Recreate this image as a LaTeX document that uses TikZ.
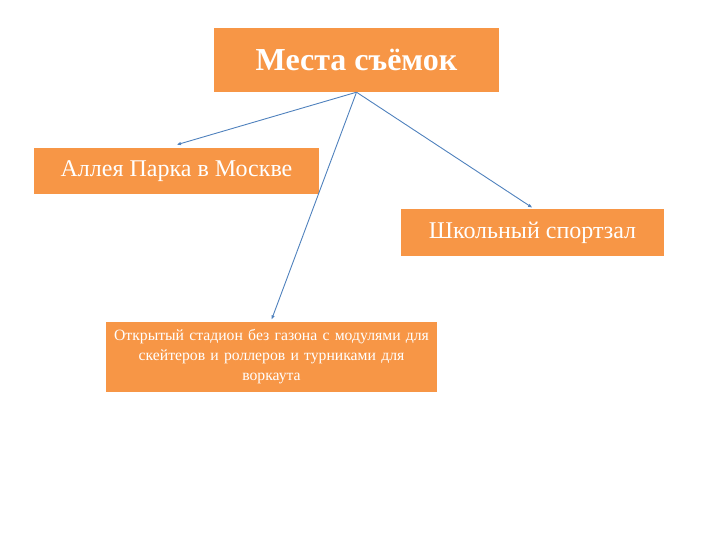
\documentclass[tikz,border=0pt]{standalone}
\usepackage{fontspec}
\setmainfont{Liberation Serif}
\usetikzlibrary{arrows.meta}

\definecolor{boxorange}{HTML}{F79646}
\definecolor{lineblue}{HTML}{4F81BD}

\begin{document}
\begin{tikzpicture}[x=1pt,y=-1pt,
  place/.style={fill=boxorange,text=white,inner sep=0pt,align=center},
  link/.style={draw=lineblue,line width=0.9pt,-{Latex[length=4.5pt,width=3.5pt]}}]
\useasboundingbox (0,0) rectangle (720,540);

\node[place,minimum width=285pt,minimum height=64pt,font=\fontsize{32}{36}\selectfont\bfseries] (mesta) at (356.5,60) {Места съёмок};
\node[place,minimum width=285pt,minimum height=46pt,font=\fontsize{24}{28}\selectfont] (alleya) at (176.5,171) {Аллея Парка в Москве};
\node[place,minimum width=263pt,minimum height=47pt,font=\fontsize{24}{28}\selectfont] (zal) at (532.5,232.5) {Школьный спортзал};
\node[place,minimum width=331pt,minimum height=70pt,text width=329pt,font=\fontsize{15.7}{20}\selectfont] (stadion) at (271.5,357) {Открытый стадион без газона с модулями для\\скейтеров и роллеров и турниками для\\воркаута};

\draw[link] (mesta.south) -- ([yshift=3pt]alleya.north);
\draw[link] (mesta.south) -- ([yshift=2pt]stadion.north);
\draw[link] (mesta.south) -- ([yshift=1pt]zal.north);
\end{tikzpicture}
\end{document}
